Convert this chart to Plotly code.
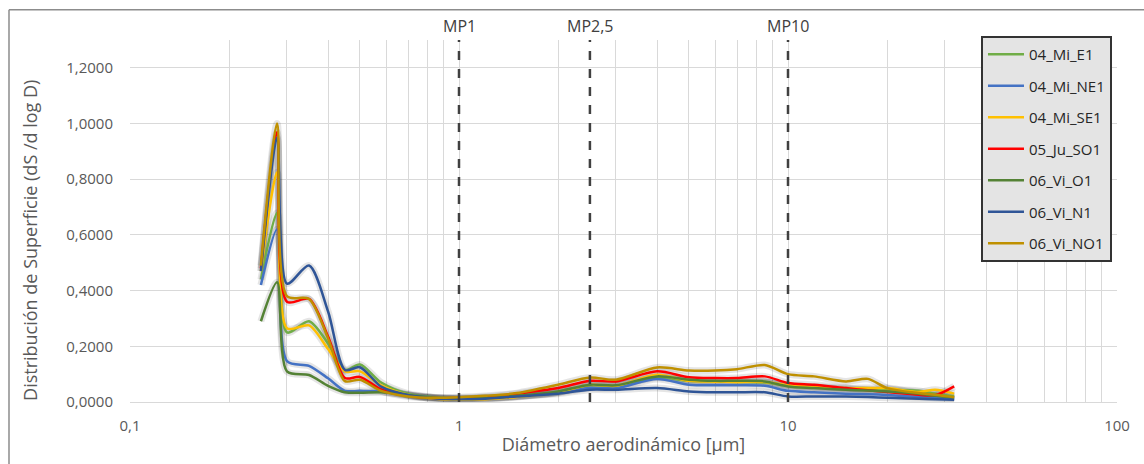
import math
import plotly.graph_objects as go

# Aerodynamic diameter (µm) for each measured size bin
diameters = [0.25, 0.28, 0.30, 0.35, 0.40, 0.45, 0.50, 0.58, 0.70, 0.85,
             1.0, 1.2, 1.5, 2.0, 2.5, 3.0, 4.0, 5.0, 6.0, 7.0, 8.5, 10,
             12, 15, 17.5, 20, 25, 28, 32]

# Surface distribution dS/dlogD per sampling point
mi_e1 = [0.44, 0.68, 0.25, 0.29, 0.21, 0.115, 0.135, 0.07, 0.03, 0.016,
         0.012, 0.014, 0.02, 0.035, 0.06, 0.058, 0.088, 0.076, 0.074, 0.072, 0.07, 0.058,
         0.052, 0.047, 0.045, 0.044, 0.04, 0.03, 0.02]
mi_ne1 = [0.42, 0.62, 0.147, 0.13, 0.085, 0.04, 0.04, 0.038, 0.025, 0.015,
          0.012, 0.014, 0.02, 0.033, 0.05, 0.05, 0.083, 0.062, 0.06, 0.06, 0.058, 0.04,
          0.035, 0.03, 0.028, 0.025, 0.018, 0.015, 0.012]
mi_se1 = [0.47, 0.825, 0.265, 0.275, 0.19, 0.11, 0.11, 0.06, 0.026, 0.012,
          0.008, 0.01, 0.018, 0.035, 0.062, 0.058, 0.098, 0.076, 0.073, 0.072, 0.072, 0.06,
          0.055, 0.05, 0.05, 0.05, 0.036, 0.044, 0.03]
ju_so1 = [0.48, 0.97, 0.36, 0.37, 0.235, 0.086, 0.09, 0.045, 0.022, 0.014,
          0.015, 0.018, 0.03, 0.05, 0.076, 0.074, 0.11, 0.089, 0.086, 0.086, 0.092, 0.068,
          0.062, 0.05, 0.042, 0.036, 0.026, 0.024, 0.056]
vi_o1 = [0.29, 0.43, 0.11, 0.097, 0.058, 0.035, 0.033, 0.035, 0.025, 0.015,
         0.012, 0.014, 0.022, 0.038, 0.062, 0.06, 0.092, 0.08, 0.076, 0.076, 0.074, 0.056,
         0.05, 0.044, 0.041, 0.038, 0.03, 0.022, 0.015]
vi_n1 = [0.47, 0.95, 0.425, 0.49, 0.325, 0.115, 0.125, 0.055, 0.025, 0.013,
         0.01, 0.012, 0.02, 0.03, 0.044, 0.044, 0.05, 0.038, 0.035, 0.035, 0.035, 0.02,
         0.02, 0.02, 0.018, 0.015, 0.012, 0.01, 0.008]
vi_no1 = [0.49, 1.0, 0.38, 0.37, 0.228, 0.075, 0.08, 0.04, 0.02, 0.015,
          0.017, 0.022, 0.032, 0.062, 0.088, 0.08, 0.124, 0.113, 0.113, 0.118, 0.133, 0.10,
          0.092, 0.074, 0.083, 0.05, 0.032, 0.026, 0.017]

series_names = ["04_Mi_E1", "04_Mi_NE1", "04_Mi_SE1", "05_Ju_SO1",
                "06_Vi_O1", "06_Vi_N1", "06_Vi_NO1"]
series_values = [mi_e1, mi_ne1, mi_se1, ju_so1, vi_o1, vi_n1, vi_no1]
series_colors = ["#70AD47", "#4472C4", "#FFC000", "#FF0000",
                 "#548235", "#2F5597", "#BF9000"]

# PM cut sizes (µm) and their labels
cut_sizes = [1, 2.5, 10]
cut_labels = ["MP1", "MP2,5", "MP10"]

fig = go.Figure()

for name, vals, col in zip(series_names, series_values, series_colors):
    # soft shadow under each curve
    fig.add_trace(go.Scatter(
        x=diameters, y=vals, mode="lines", showlegend=False, hoverinfo="skip",
        line=dict(color="rgba(0,0,0,0.10)", width=7, shape="spline", smoothing=0.8),
    ))
for name, vals, col in zip(series_names, series_values, series_colors):
    fig.add_trace(go.Scatter(
        x=diameters, y=vals, mode="lines", name=name, legendgroup=name,
        line=dict(color=col, width=2.5, shape="spline", smoothing=0.8),
    ))

for xv, lab in zip(cut_sizes, cut_labels):
    fig.add_shape(type="line", xref="x", yref="paper", x0=xv, x1=xv, y0=0, y1=1,
                  line=dict(color="#404040", width=2.5, dash="dash"))
    fig.add_annotation(x=math.log10(xv), xref="x", y=1, yref="paper",
                       text=lab, showarrow=False, yanchor="bottom", yshift=1,
                       font=dict(family="Open Sans", size=16, color="#404040"))

# y-axis title, placed slightly below the plot centre
fig.add_annotation(x=-0.1013, xref="paper", y=0.445, yref="paper",
                   text="Distribución de Superficie (dS /d log D)",
                   textangle=-90, showarrow=False, xanchor="center", yanchor="middle",
                   font=dict(family="Open Sans", size=18, color="#595959"))

# chart-area frame (left and top edges)
fig.add_shape(type="line", xref="paper", yref="paper", x0=-0.1226, x1=1.03,
              y0=1.0837, y1=1.0837, line=dict(color="#8c8c8c", width=1.5))
fig.add_shape(type="line", xref="paper", yref="paper", x0=-0.1226, x1=-0.1226,
              y0=-0.2, y1=1.0837, line=dict(color="#8c8c8c", width=1.5))

fig.update_layout(
    width=1144, height=464,
    margin=dict(l=130, r=27, t=40, b=60),
    paper_bgcolor="white", plot_bgcolor="white",
    separators=",.",
    font=dict(family="Open Sans", color="#595959"),
    legend=dict(
        x=0.8622, xanchor="left", y=1.011, yanchor="top",
        bgcolor="#e4e4e4", bordercolor="#333333", borderwidth=2,
        font=dict(family="Open Sans", size=15, color="#262626"),
        tracegroupgap=9, itemwidth=36, maxheight=420,
    ),
    xaxis=dict(
        type="log", range=[-1, 2], dtick=1,
        showgrid=True, gridcolor="#d9d9d9", gridwidth=1,
        minor=dict(dtick="D1", showgrid=True, gridcolor="#d9d9d9", gridwidth=1),
        showline=True, linecolor="#d9d9d9", linewidth=1,
        zeroline=False, ticks="", ticklabelstandoff=10,
        tickfont=dict(family="Open Sans", size=15, color="#595959"),
        title=dict(text="Diámetro aerodinámico [µm]", standoff=4,
                   font=dict(family="Open Sans", size=18, color="#595959")),
    ),
    yaxis=dict(
        range=[0, 1.3], dtick=0.2, tickformat=".4f",
        showgrid=True, gridcolor="#d9d9d9", gridwidth=1,
        zeroline=False, ticks="", ticklabelstandoff=16,
        tickfont=dict(family="Open Sans", size=15, color="#595959"),
    ),
)

fig.write_html("out.html")
